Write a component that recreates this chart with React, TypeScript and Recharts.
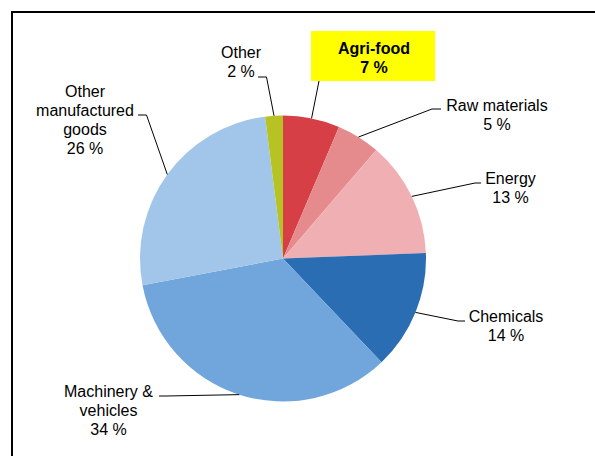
import { PieChart, Pie, Cell } from 'recharts'

const categories = [
  'Agri-food',
  'Raw materials',
  'Energy',
  'Chemicals',
  'Machinery & vehicles',
  'Other manufactured goods',
  'Other',
]
const shares = [6.4, 4.9, 13.1, 13.5, 34.1, 26.0, 2.0]
const shareLabels = ['7 %', '5 %', '13 %', '14 %', '34 %', '26 %', '2 %']
const labelLines = [
  ['Agri-food'],
  ['Raw materials'],
  ['Energy'],
  ['Chemicals'],
  ['Machinery &', 'vehicles'],
  ['Other', 'manufactured', 'goods'],
  ['Other'],
]
const colors = ['#d73f46', '#e58b8e', '#f0b0b3', '#2a6db3', '#70a6dc', '#a2c6ea', '#b7c224']

// label placement: leader elbow, leader end, text centre x, first baseline
const labelLayout = [
  { elbow: [319, 81], end: [319, 81], tx: 374, ty: 53.5 },
  { elbow: [432, 109], end: [441, 109], tx: 497, ty: 110.5 },
  { elbow: [475, 183], end: [481, 183], tx: 510.5, ty: 183.5 },
  { elbow: [458, 321], end: [465, 321], tx: 506, ty: 321.5 },
  { elbow: [166, 396], end: [159, 396], tx: 108.5, ty: 397 },
  { elbow: [146.5, 115], end: [138, 115], tx: 85, ty: 97 },
  { elbow: [266.5, 77], end: [258, 77], tx: 241, ty: 57.5 },
]

const data = categories.map((name, i) => ({ name, value: shares[i] }))

const RAD = Math.PI / 180
const FONT = '"Liberation Sans", Arial, sans-serif'

function renderLabel(props: any) {
  const { cx, cy, midAngle, outerRadius, index } = props
  const sx = cx + outerRadius * Math.cos(-midAngle * RAD)
  const sy = cy + outerRadius * Math.sin(-midAngle * RAD)
  const lay = labelLayout[index]
  const lines = [...labelLines[index], shareLabels[index]]
  const bold = index === 0
  return (
    <g key={`lbl-${index}`}>
      {bold && <rect x={311} y={31} width={124} height={50} fill="#ffff00" />}
      <polyline
        points={`${sx},${sy} ${lay.elbow[0]},${lay.elbow[1]} ${lay.end[0]},${lay.end[1]}`}
        fill="none"
        stroke="#000"
        strokeWidth={1}
      />
      <text
        x={lay.tx}
        y={lay.ty}
        textAnchor="middle"
        fontFamily={FONT}
        fontSize={16}
        fontWeight={bold ? 'bold' : 'normal'}
        fill="#000"
      >
        {lines.map((l, j) => (
          <tspan key={j} x={lay.tx} dy={j === 0 ? 0 : 19}>
            {l}
          </tspan>
        ))}
      </text>
    </g>
  )
}

export default function App() {
  return (
    <div
      style={{
        position: 'absolute',
        left: 0,
        top: 0,
        width: 595,
        height: 456,
        overflow: 'hidden',
        background: '#fff',
      }}
    >
      <div
        style={{
          position: 'absolute',
          left: 11,
          top: 11,
          width: 620,
          height: 480,
          border: '2px solid #000',
        }}
      />
      <div style={{ position: 'absolute', left: 0, top: 0 }}>
        <PieChart width={595} height={456} margin={{ top: 0, right: 0, bottom: 0, left: 0 }}>
          <Pie
            data={data}
            dataKey="value"
            cx={283}
            cy={258.5}
            innerRadius={0}
            outerRadius={143}
            startAngle={90}
            endAngle={-270}
            stroke="none"
            label={renderLabel}
            labelLine={false}
            isAnimationActive={false}
          >
            {data.map((entry, index) => (
              <Cell key={`cell-${index}`} fill={colors[index]} strokeWidth={0} />
            ))}
          </Pie>
        </PieChart>
      </div>
    </div>
  )
}
